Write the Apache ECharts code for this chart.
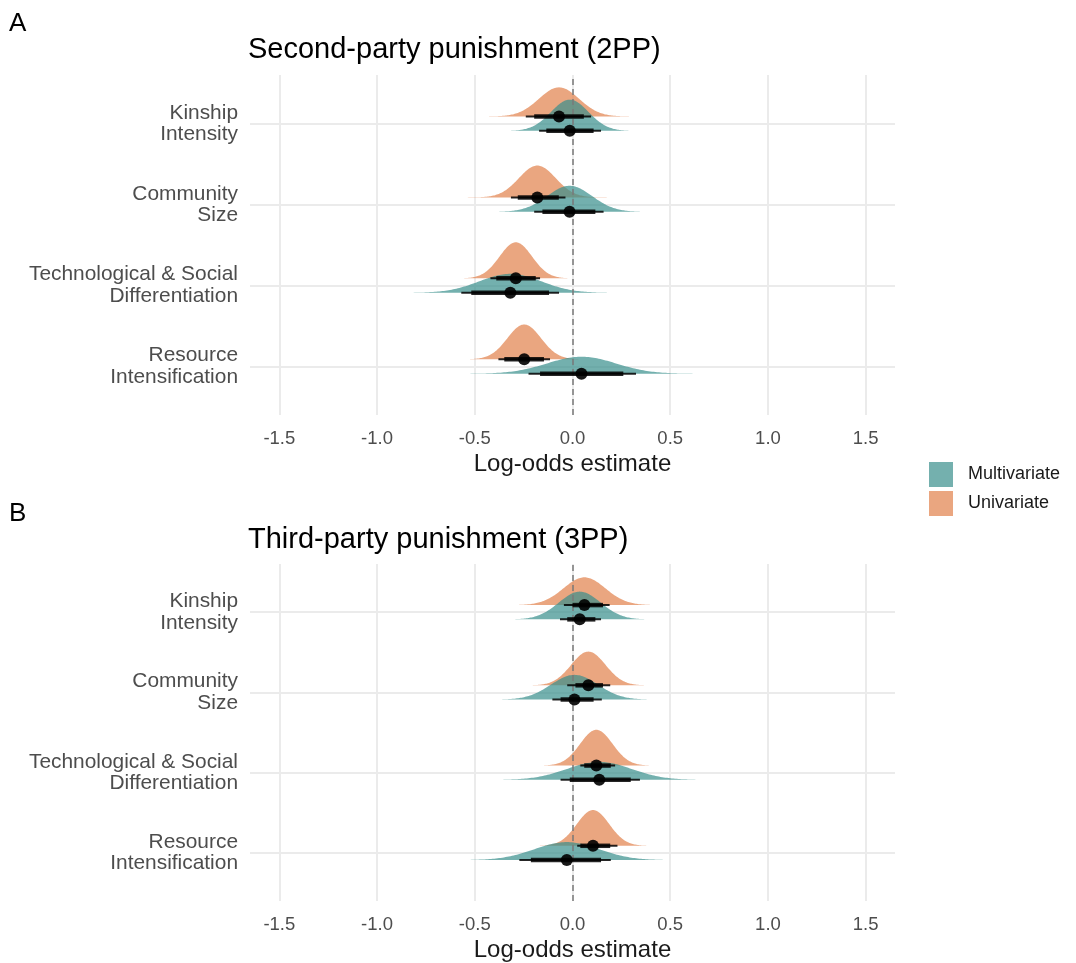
<!DOCTYPE html>
<html><head><meta charset="utf-8">
<script src="https://cdn.jsdelivr.net/npm/echarts@6/dist/echarts.min.js"></script>
<style>html,body{margin:0;padding:0;background:#fff}#chart{width:1076px;height:963px}</style>
</head><body><div id="chart"></div>
<script>
// ---------- data ----------
const categories = ['Kinship\nIntensity', 'Community\nSize', 'Technological & Social\nDifferentiation', 'Resource\nIntensification'];
const xTicks = [-1.5, -1.0, -0.5, 0.0, 0.5, 1.0, 1.5];
const panelTags = ['A', 'B'];
const panelTitles = ['Second-party punishment (2PP)', 'Third-party punishment (3PP)'];
const models = ['Multivariate', 'Univariate'];

// Panel A (2PP) - Multivariate
const pA_multi_median = [-0.014, -0.015, -0.318, 0.046];
const pA_multi_inner  = [[-0.134, 0.108], [-0.154, 0.117], [-0.518, -0.120], [-0.166, 0.260]];
const pA_multi_outer  = [[-0.171, 0.146], [-0.196, 0.159], [-0.569, -0.069], [-0.225, 0.325]];
const pA_multi_sd     = [0.096, 0.115, 0.158, 0.176];
// Panel A (2PP) - Univariate
const pA_uni_median = [-0.069, -0.180, -0.290, -0.247];
const pA_uni_inner  = [[-0.196, 0.058], [-0.280, -0.070], [-0.390, -0.188], [-0.349, -0.146]];
const pA_uni_outer  = [[-0.239, 0.095], [-0.315, -0.036], [-0.420, -0.166], [-0.379, -0.115]];
const pA_uni_sd     = [0.103, 0.094, 0.083, 0.086];
// Panel B (3PP) - Multivariate
const pB_multi_median = [0.037, 0.010, 0.137, -0.029];
const pB_multi_inner  = [[-0.027, 0.117], [-0.061, 0.108], [-0.014, 0.298], [-0.213, 0.146]];
const pB_multi_outer  = [[-0.064, 0.146], [-0.103, 0.150], [-0.061, 0.345], [-0.272, 0.196]];
const pB_multi_sd     = [0.107, 0.120, 0.165, 0.165];
// Panel B (3PP) - Univariate
const pB_uni_median = [0.061, 0.081, 0.122, 0.105];
const pB_uni_inner  = [[0.000, 0.156], [0.015, 0.156], [0.060, 0.196], [0.040, 0.193]];
const pB_uni_outer  = [[-0.044, 0.190], [-0.027, 0.193], [0.040, 0.218], [0.024, 0.230]];
const pB_uni_sd     = [0.107, 0.088, 0.083, 0.083];

// ---------- styling ----------
const legendColor = { Multivariate: '#74B0AE', Univariate: '#EAA680' };
const slabFill = { Multivariate: 'rgba(56,142,139,0.70)', Univariate: 'rgba(225,128,74,0.70)' };
const dodge = { Multivariate: -0.09, Univariate: 0.088 };
const SLAB_K = 0.037;
const nCat = categories.length;

const panels = [
  { multi: [pA_multi_median, pA_multi_inner, pA_multi_outer, pA_multi_sd],
    uni:   [pA_uni_median, pA_uni_inner, pA_uni_outer, pA_uni_sd] },
  { multi: [pB_multi_median, pB_multi_inner, pB_multi_outer, pB_multi_sd],
    uni:   [pB_uni_median, pB_uni_inner, pB_uni_outer, pB_uni_sd] }
];

function slabRender(model) {
  return function (params, api) {
    const ci = api.value(0), mu = api.value(1), sd = api.value(2);
    const base = (nCat - ci) + dodge[model];
    const lo = mu - 4 * sd, hi = mu + 4 * sd, N = 160;
    const pts = [];
    for (let k = 0; k <= N; k++) {
      const x = lo + (hi - lo) * k / N;
      const z = (x - mu) / sd;
      pts.push(api.coord([x, base + SLAB_K / sd * Math.exp(-0.5 * z * z)]));
    }
    pts.push(api.coord([hi, base]));
    pts.push(api.coord([lo, base]));
    return { type: 'polygon', shape: { points: pts }, style: { fill: slabFill[model], stroke: null } };
  };
}
function intervalRender(model) {
  return function (params, api) {
    const ci = api.value(0);
    const y = (nCat - ci) + dodge[model];
    const m = api.coord([api.value(1), y]);
    const i0 = api.coord([api.value(2), y]), i1 = api.coord([api.value(3), y]);
    const o0 = api.coord([api.value(4), y]), o1 = api.coord([api.value(5), y]);
    return { type: 'group', children: [
      { type: 'line', shape: { x1: o0[0], y1: o0[1], x2: o1[0], y2: o1[1] }, style: { stroke: 'rgba(0,0,0,0.85)', lineWidth: 2 } },
      { type: 'line', shape: { x1: i0[0], y1: i0[1], x2: i1[0], y2: i1[1] }, style: { stroke: 'rgba(0,0,0,0.85)', lineWidth: 4.5 } },
      { type: 'circle', shape: { cx: m[0], cy: m[1], r: 6 }, style: { fill: 'rgba(0,0,0,0.9)' } }
    ] };
  };
}

const grids = [
  { left: 250, top: 75, width: 645, height: 340 },
  { left: 250, top: 564, width: 645, height: 340 }
];
const xAxes = [], yAxes = [], series = [], titles = [];
panels.forEach((p, gi) => {
  xAxes.push({
    type: 'value', gridIndex: gi, min: -1.65, max: 1.65,
    name: 'Log-odds estimate', nameLocation: 'middle', nameGap: 37,
    nameTextStyle: { fontSize: 24, color: '#1a1a1a', fontFamily: 'Liberation Sans' },
    axisLine: { show: false },
    axisTick: { show: false, customValues: xTicks },
    axisLabel: { customValues: xTicks, formatter: v => v.toFixed(1), fontSize: 18.5, color: '#4d4d4d', margin: 14, fontFamily: 'Liberation Sans' },
    splitLine: { show: true, lineStyle: { color: '#ebebeb', width: 2 } }
  });
  const yVals = categories.map((c, i) => nCat - i);
  yAxes.push({
    type: 'value', gridIndex: gi, min: 0.4, max: 4.6,
    axisLine: { show: false },
    axisTick: { show: false, customValues: yVals },
    axisLabel: { customValues: yVals, formatter: v => categories[nCat - v], fontSize: 20.9, lineHeight: 21.5, padding: [5, 0, 0, 0], color: '#4d4d4d', margin: 12, fontFamily: 'Liberation Sans' },
    splitLine: { show: true, lineStyle: { color: '#ebebeb', width: 2 } }
  });
  titles.push({ text: panelTags[gi], left: 9, top: gi === 0 ? 11 : 501, padding: 0,
    textStyle: { fontSize: 26, fontWeight: 'normal', color: '#000', fontFamily: 'Liberation Sans' } });
  titles.push({ text: panelTitles[gi], left: 248, top: gi === 0 ? 35 : 525, padding: 0,
    textStyle: { fontSize: 29, fontWeight: 'normal', color: '#000', fontFamily: 'Liberation Sans' } });

  ['Univariate', 'Multivariate'].forEach(model => {
    const key = model === 'Multivariate' ? 'multi' : 'uni';
    const [med, inner, outer, sd] = p[key];
    const s = {
      type: 'custom', name: model, xAxisIndex: gi, yAxisIndex: gi, z: 2,
      itemStyle: { color: legendColor[model] },
      renderItem: slabRender(model), silent: true,
      data: med.map((m, i) => [i, m, sd[i]])
    };
    if (model === 'Multivariate') {
      s.markLine = { silent: true, symbol: ['none', 'none'], label: { show: false },
        lineStyle: { type: [6, 4], color: '#7a7a7a', width: 1.5 }, data: [{ xAxis: 0 }] };
    }
    series.push(s);
  });
  ['Univariate', 'Multivariate'].forEach(model => {
    const key = model === 'Multivariate' ? 'multi' : 'uni';
    const [med, inner, outer] = p[key];
    series.push({
      type: 'custom', name: model + ' interval', xAxisIndex: gi, yAxisIndex: gi, z: 5,
      renderItem: intervalRender(model), silent: true,
      data: med.map((m, i) => [i, m, inner[i][0], inner[i][1], outer[i][0], outer[i][1]])
    });
  });
});

const chart = echarts.init(document.getElementById('chart'), null, { renderer: 'canvas' });
chart.setOption({
  animation: false,
  backgroundColor: '#fff',
  title: titles,
  grid: grids, xAxis: xAxes, yAxis: yAxes, series: series,
  legend: {
    data: models, orient: 'vertical', left: 929, top: 462, padding: 0,
    itemWidth: 24, itemHeight: 25, itemGap: 4, icon: 'rect',
    textStyle: { fontSize: 18, color: '#1a1a1a', fontFamily: 'Liberation Sans', padding: [2, 0, 0, 10] }
  }
});
</script></body></html>
